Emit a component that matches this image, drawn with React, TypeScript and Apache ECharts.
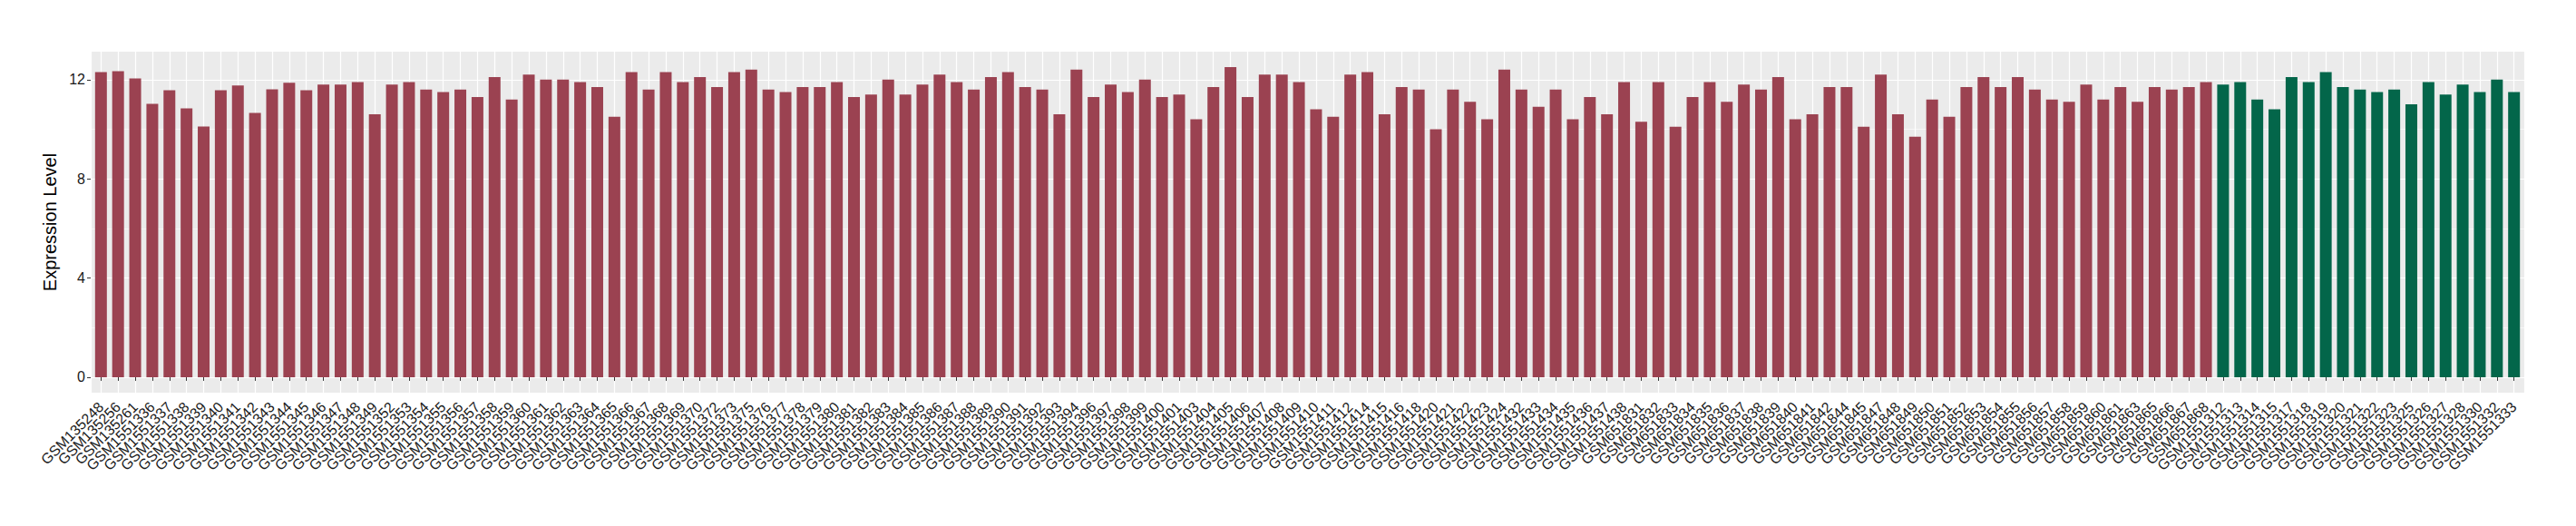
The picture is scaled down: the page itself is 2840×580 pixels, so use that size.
import React, { useEffect, useRef } from "react";
import * as echarts from "echarts";

const redSamples = [
  "GSM135248", "GSM135256", "GSM135261", "GSM1551336", "GSM1551337", "GSM1551338", "GSM1551339", "GSM1551340",
  "GSM1551341", "GSM1551342", "GSM1551343", "GSM1551344", "GSM1551345", "GSM1551346", "GSM1551347", "GSM1551348",
  "GSM1551349", "GSM1551352", "GSM1551353", "GSM1551354", "GSM1551355", "GSM1551356", "GSM1551357", "GSM1551358",
  "GSM1551359", "GSM1551360", "GSM1551361", "GSM1551362", "GSM1551363", "GSM1551364", "GSM1551365", "GSM1551366",
  "GSM1551367", "GSM1551368", "GSM1551369", "GSM1551370", "GSM1551372", "GSM1551373", "GSM1551375", "GSM1551376",
  "GSM1551377", "GSM1551378", "GSM1551379", "GSM1551380", "GSM1551381", "GSM1551382", "GSM1551383", "GSM1551384",
  "GSM1551385", "GSM1551386", "GSM1551387", "GSM1551388", "GSM1551389", "GSM1551390", "GSM1551391", "GSM1551392",
  "GSM1551393", "GSM1551394", "GSM1551396", "GSM1551397", "GSM1551398", "GSM1551399", "GSM1551400", "GSM1551401",
  "GSM1551403", "GSM1551404", "GSM1551405", "GSM1551406", "GSM1551407", "GSM1551408", "GSM1551409", "GSM1551410",
  "GSM1551411", "GSM1551412", "GSM1551414", "GSM1551415", "GSM1551416", "GSM1551418", "GSM1551420", "GSM1551421",
  "GSM1551422", "GSM1551423", "GSM1551424", "GSM1551432", "GSM1551433", "GSM1551434", "GSM1551435", "GSM1551436",
  "GSM1551437", "GSM1551438", "GSM651831", "GSM651832", "GSM651833", "GSM651834", "GSM651835", "GSM651836",
  "GSM651837", "GSM651838", "GSM651839", "GSM651840", "GSM651841", "GSM651842", "GSM651844", "GSM651845",
  "GSM651847", "GSM651848", "GSM651849", "GSM651850", "GSM651851", "GSM651852", "GSM651853", "GSM651854",
  "GSM651855", "GSM651856", "GSM651857", "GSM651858", "GSM651859", "GSM651860", "GSM651861", "GSM651863",
  "GSM651865", "GSM651866", "GSM651867", "GSM651868",
];

const redValues = [
  12.30, 12.34, 12.05, 11.02, 11.57, 10.84, 10.11, 11.57, 11.76, 10.66, 11.61, 11.87, 11.57,
  11.8, 11.8, 11.9, 10.6, 11.8, 11.9, 11.6, 11.5, 11.6, 11.3,
  12.1, 11.2, 12.2, 12.0, 12.0, 11.9, 11.7, 10.5, 12.3, 11.6,
  12.3, 11.9, 12.1, 11.7, 12.3, 12.4, 11.6, 11.5, 11.7, 11.7,
  11.9, 11.3, 11.4, 12.0, 11.4, 11.8, 12.2, 11.9, 11.6, 12.1,
  12.3, 11.7, 11.6, 10.6, 12.4, 11.3, 11.8, 11.5, 12.0, 11.3,
  11.4, 10.4, 11.7, 12.5, 11.3, 12.2, 12.2, 11.9, 10.8, 10.5,
  12.2, 12.3, 10.6, 11.7, 11.6, 10.0, 11.6, 11.1, 10.4, 12.4,
  11.6, 10.9, 11.6, 10.4, 11.3, 10.6, 11.9, 10.3, 11.9, 10.1,
  11.3, 11.9, 11.1, 11.8, 11.6, 12.1, 10.4, 10.6, 11.7, 11.7,
  10.1, 12.2, 10.6, 9.7, 11.2, 10.5, 11.7, 12.1, 11.7, 12.1,
  11.6, 11.2, 11.1, 11.8, 11.2, 11.7, 11.1, 11.7, 11.6, 11.7,
  11.9,
];

const greenSamples = [
  "GSM1551312", "GSM1551313", "GSM1551314", "GSM1551315", "GSM1551317", "GSM1551318", "GSM1551319", "GSM1551320",
  "GSM1551321", "GSM1551322", "GSM1551323", "GSM1551325", "GSM1551326", "GSM1551327", "GSM1551328", "GSM1551330",
  "GSM1551332", "GSM1551333",
];

const greenValues = [
  11.8, 11.9, 11.2, 10.8, 12.1, 11.9, 12.3, 11.7, 11.6, 11.5, 11.6, 11.0, 11.9, 11.4, 11.8, 11.5, 12.0, 11.5,
];

const yTicks = [0, 4, 8, 12];

const FONT = "'Liberation Sans', Arial, Helvetica, sans-serif";

export default function App() {
  const ref = useRef<HTMLDivElement>(null);

  useEffect(() => {
    if (!ref.current) return;
    const chart = echarts.init(ref.current, null, { renderer: "svg" });
    const categories = [...redSamples, ...greenSamples];
    const n = categories.length;
    const maxV = Math.max(...redValues, ...greenValues);
    const yMax = maxV * 1.05;
    const yMin = -maxV * 0.05;

    const option: any = {
      animation: false,
      backgroundColor: "#ffffff",
      grid: {
        show: true,
        backgroundColor: "#EBEBEB",
        borderWidth: 0,
        left: 100,
        top: 57,
        width: 2683,
        height: 376,
        containLabel: false,
      },
      xAxis: {
        type: "value",
        min: 0.4,
        max: n + 0.6,
        minInterval: 1,
        maxInterval: 1,
        axisLine: { show: false },
        axisTick: {
          show: true,
          length: 4,
          lineStyle: { color: "#333333", width: 1 },
        },
        axisLabel: {
          showMinLabel: false,
          showMaxLabel: false,
          rotate: 45,
          margin: 13,
          fontSize: 16,
          fontFamily: FONT,
          color: "#1a1a1a",
          align: "right",
          verticalAlign: "middle",
          formatter: (v: number) =>
            Number.isInteger(v) && v >= 1 && v <= n ? categories[v - 1] : "",
        },
        splitLine: { show: true, lineStyle: { color: "#ffffff", width: 1.2 } },
      },
      yAxis: {
        type: "value",
        min: yMin,
        max: yMax,
        minInterval: 4,
        maxInterval: 4,
        splitNumber: 3,
        axisLine: { show: false },
        axisTick: {
          show: true,
          length: 4,
          lineStyle: { color: "#333333", width: 1 },
          customValues: yTicks,
        },
        axisLabel: {
          customValues: yTicks,
          margin: 6,
          fontSize: 16,
          fontFamily: FONT,
          color: "#1a1a1a",
          formatter: (v: number) => (yTicks.includes(v) ? String(v) : ""),
        },
        splitLine: { show: true, lineStyle: { color: "#ffffff", width: 1.2 } },
        minorTick: { show: false, splitNumber: 2 },
        minorSplitLine: { show: true, lineStyle: { color: "#ffffff", width: 0.6 } },
        name: "Expression Level",
        nameLocation: "middle",
        nameRotate: 90,
        nameGap: 23,
        nameTextStyle: { fontSize: 20, fontFamily: FONT, color: "#000000" },
      },
      series: [
        {
          name: "Group A",
          type: "bar",
          stack: "all",
          barWidth: 13,
          itemStyle: { color: "#9B4251" },
          data: redValues.map((v, i) => [i + 1, v]),
        },
        {
          name: "Group B",
          type: "bar",
          stack: "all",
          barWidth: 13,
          itemStyle: { color: "#03664A" },
          data: greenValues.map((v, i) => [redValues.length + i + 1, v]),
        },
      ],
    };
    chart.setOption(option);
    return () => chart.dispose();
  }, []);

  return (
    <div
      ref={ref}
      style={{ position: "fixed", left: 0, top: 0, width: 2840, height: 580 }}
    />
  );
}
